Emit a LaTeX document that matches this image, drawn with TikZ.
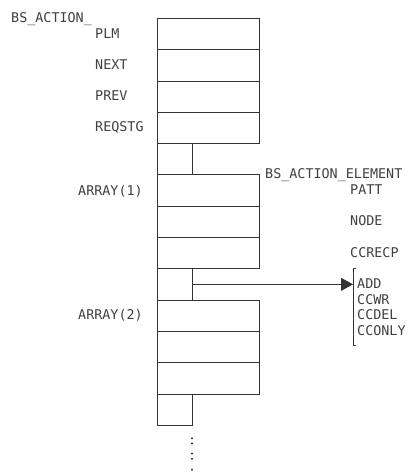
\documentclass[tikz,border=0pt]{standalone}
\usepackage{fontspec}
\newfontfamily\labelfont{DejaVu Sans Mono}
\usetikzlibrary{arrows.meta}
\begin{document}
\begin{tikzpicture}[x=1pt,y=-1pt,
  cell/.style={draw=black!80, line width=0.8pt, inner sep=0pt, outer sep=0pt, minimum height=31.3pt},
  full/.style={cell, minimum width=102pt},
  small/.style={cell, minimum width=35pt},
  lbl/.style={font=\labelfont\fontsize{13.4}{15.5}\selectfont, text=black!75, inner sep=0pt, anchor=base west},
  conn/.style={draw=black!80, line width=0.8pt},
  dotm/.style={fill=black!80}]
\useasboundingbox (0,0) rectangle (408,474);
% main structure
\node[full]  (r0)  at (208,33.95)  {};
\node[full]  (r1)  at (208,65.25)  {};
\node[full]  (r2)  at (208,96.55)  {};
\node[full]  (r3)  at (208,127.85) {};
\node[small] (s4)  at (174.5,159.15) {};
\node[full]  (r5)  at (208,190.45) {};
\node[full]  (r6)  at (208,221.75) {};
\node[full]  (r7)  at (208,253.05) {};
\node[small] (s8)  at (174.5,284.35) {};
\node[full]  (r9)  at (208,315.65) {};
\node[full]  (r10) at (208,346.95) {};
\node[full]  (r11) at (208,378.25) {};
\node[small] (s12) at (174.5,409.55) {};
% labels left
\node[lbl] (tBS)   at (11,22.5)  {BS\_ACTION\_};
\node[lbl] (tPLM)  at (95,38)    {PLM};
\node[lbl] (tNEXT) at (95,69.2)  {NEXT};
\node[lbl] (tPREV) at (95,100.4) {PREV};
\node[lbl] (tREQ)  at (95,131.6) {REQSTG};
\node[lbl] (tA1)   at (78,195)   {ARRAY(1)};
\node[lbl] (tA2)   at (78,319.9) {ARRAY(2)};
% labels right
\node[lbl] (tBSE)  at (265,178.9) {BS\_ACTION\_ELEMENT};
\node[lbl] (tPATT) at (350,194.4) {PATT};
\node[lbl] (tNODE) at (350,225.9) {NODE};
\node[lbl] (tCCR)  at (350,257)   {CCRECP};
\node[lbl] (tADD)  at (357,288.6) {ADD};
\node[lbl] (tCCWR) at (357,304.1) {CCWR};
\node[lbl] (tCCD)  at (357,319.6) {CCDEL};
\node[lbl] (tCCO)  at (357,335.1) {CCONLY};
% bracket
\coordinate (brtop) at (353,268.3);
\coordinate (brbot) at (353,345);
\draw[conn] ([xshift=3pt]brtop) -- (brtop) -- (brbot) -- ([xshift=3pt]brbot);
% arrow
\draw[conn, -{Triangle[length=12pt,width=13pt]}] (s8.east) -- (s8.east -| brtop);
% continuation dots
\fill[dotm] (192,438.3) circle (1.1pt);
\fill[dotm] (192,443.5) circle (1.1pt);
\fill[dotm] (192,453.5) circle (1.1pt);
\fill[dotm] (192,458.7) circle (1.1pt);
\fill[dotm] (192,469.8) circle (1.1pt);
\end{tikzpicture}
\end{document}
